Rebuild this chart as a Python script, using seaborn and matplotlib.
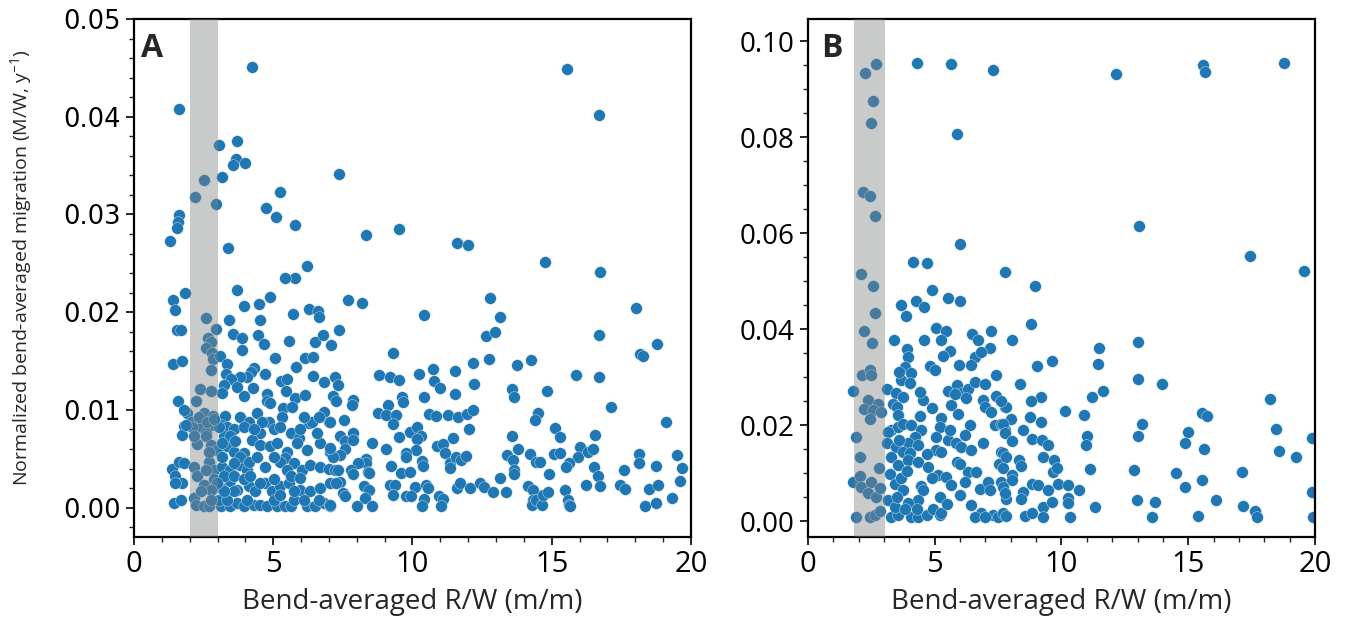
import numpy as np
import pandas as pd
import matplotlib
matplotlib.use("Agg")
import matplotlib.pyplot as plt
import seaborn as sns
from matplotlib.ticker import MultipleLocator, FormatStrFormatter

# ---------------- Panel A data (R/W, migration in 1e-3 M/W per yr) ----------------
a_rw = [
    4.24, 1.62, 3.07, 3.70, 3.67, 3.55, 3.97, 2.53, 3.15, 2.19, 2.93, 7.35, 5.26, 4.73, 5.10, 5.79,
    1.62, 1.58, 1.53, 1.31, 3.38, 8.32, 9.53, 6.20, 5.77, 5.44, 15.54, 16.71, 11.60, 12.01, 14.75, 16.75,
    1.82, 1.41, 1.48, 3.70, 4.87, 3.95, 4.48, 2.59, 3.41, 4.52, 5.71, 6.30, 6.61, 6.63, 1.55, 1.67, 2.93, 2.64, 2.78, 2.60,
    2.81, 2.84, 3.55, 3.88, 4.44, 4.68, 5.57, 6.51, 6.79, 3.89, 3.08, 5.08, 6.15, 6.43, 1.39, 1.71, 2.75, 3.35, 5.82, 4.30,
    4.19, 4.04, 3.80, 4.72, 6.42, 6.81, 3.29, 3.48, 3.23, 3.17, 5.27, 5.50, 4.28, 3.69, 3.95, 2.38, 2.75, 5.45, 4.78, 4.76,
    5.79, 6.15, 1.58, 2.21,
    1.91, 2.51, 2.83, 3.26, 3.82, 4.12, 4.42, 4.90, 5.35, 5.67, 6.81, 6.27,
    1.79, 2.03, 2.39, 2.75, 2.57, 3.11, 3.35, 3.58, 3.94, 4.54, 4.84, 5.32, 5.62, 5.91, 6.39, 6.99,
    1.73, 2.27, 2.57, 2.75, 2.99, 3.23, 3.35, 3.58, 3.94, 4.24, 4.54, 4.90, 5.14, 5.50, 5.85, 6.21, 6.69, 7.05,
    1.37, 1.61, 1.79, 2.15, 2.69, 2.87, 3.17, 3.46, 3.82, 4.06, 4.72, 5.44, 5.73, 6.03, 6.33, 6.69, 6.99,
    1.49, 1.73, 2.27, 2.51, 2.87, 3.11, 3.46, 3.70, 4.12, 4.36, 4.72, 4.96, 5.26, 5.56, 5.97, 6.33, 6.69, 7.05,
    1.43, 1.67, 2.15, 2.21, 2.51, 2.69, 3.11, 3.46, 3.70, 3.94, 4.30, 4.54, 4.78, 5.14, 5.44, 5.62, 6.21, 6.51, 6.81, 7.05,
    3.05, 3.46, 3.17, 3.64, 3.82, 4.12, 4.42, 5.26, 5.50, 5.62, 5.97, 3.23, 3.58, 3.94, 4.18, 4.54, 5.02, 3.05, 3.35, 4.06,
    5.02, 5.73, 6.09, 6.63, 3.58, 5.26, 5.73, 3.23, 2.99, 3.17, 3.58, 5.02, 4.60, 4.30, 5.02, 5.97, 6.57, 6.63, 6.09, 5.26,
    2.09, 2.33, 2.63, 2.87, 2.15, 2.69, 2.57, 2.75, 2.39, 2.75, 1.79, 1.85, 1.49,
    7.70, 8.18, 12.79, 10.41, 13.15, 7.35, 12.65, 12.96, 7.07, 9.30, 12.74, 13.76, 8.80, 9.18, 9.53, 10.23, 10.72, 11.52, 12.16, 7.20,
    7.33, 10.78, 10.97, 12.22, 13.58, 13.66, 11.51, 7.15, 7.27, 7.87, 7.82, 9.63, 9.66, 10.43, 9.13, 8.76, 9.06, 9.42, 9.30, 10.58,
    10.85, 11.26, 11.62, 11.95, 12.17, 7.53, 7.03, 12.02, 7.88, 7.39, 7.59, 7.87, 7.57, 7.39, 7.15, 7.03, 8.55, 9.06, 9.52, 9.90,
    10.16, 10.32, 10.16, 10.12, 9.75, 9.78, 10.88, 11.09, 11.15, 11.45, 11.33, 11.35, 11.57, 11.73, 11.93, 10.35, 10.38, 8.32, 8.34, 8.40,
    8.44, 8.05, 7.81, 7.87, 7.21, 7.33, 7.39, 7.27, 9.24, 9.58, 9.90, 9.18, 9.36, 9.30, 8.25, 8.44, 8.28, 7.51, 7.57, 7.03,
    7.99, 8.55, 10.08, 9.78, 9.96, 10.49, 10.55, 10.43, 10.35, 10.95, 11.09, 11.01, 11.61, 11.69, 12.07, 12.43, 12.56, 12.88, 13.34, 13.16,
    13.40, 13.60, 13.66, 13.66, 13.58, 13.79,
    18.01, 16.69, 18.79, 18.18, 18.26, 14.27, 15.88, 16.68, 14.83, 17.14, 19.10, 14.52, 14.40, 15.11, 15.31, 16.56, 14.21, 14.44, 14.59,
    15.07, 15.30, 16.00, 15.93, 15.63, 15.51, 16.31, 16.49, 16.53, 16.67, 16.75, 16.22, 14.89, 14.16, 14.32, 14.32, 14.28, 14.45, 14.64, 14.68,
    14.88, 15.48, 15.57, 15.61, 15.67, 17.60, 17.44, 17.64, 18.14, 18.12, 18.75, 18.50, 18.80, 18.34, 18.74, 19.33, 19.51, 19.68, 19.60,
]
a_mig_permil = [
    45.1, 40.8, 37.1, 37.5, 35.7, 35.1, 35.3, 33.5, 33.8, 31.8, 31.1, 34.1, 32.3, 30.7, 29.7, 28.9,
    29.9, 29.2, 28.6, 27.3, 26.6, 27.9, 28.5, 24.7, 23.5, 23.5, 44.9, 40.2, 27.1, 26.9, 25.1, 24.1,
    22.0, 21.2, 20.2, 22.3, 21.6, 20.6, 20.8, 19.4, 19.2, 19.2, 19.8, 20.3, 20.1, 19.5, 18.2, 18.2, 18.3, 17.4, 17.0, 16.3,
    15.8, 15.2, 17.8, 17.4, 17.7, 16.7, 17.1, 17.0, 17.7, 16.1, 15.5, 15.3, 15.3, 15.4, 14.7, 15.0, 14.1, 14.7, 14.4, 14.3,
    13.9, 13.4, 13.4, 13.7, 13.5, 12.9, 13.7, 13.2, 12.6, 11.7, 13.0, 13.2, 12.2, 12.3, 11.4, 12.1, 11.9, 11.9, 11.6, 10.9,
    11.2, 11.5, 10.9, 10.9,
    9.7, 9.7, 9.4, 9.4, 9.3, 8.8, 9.7, 10.7, 10.2, 10.3, 9.8, 8.7,
    8.4, 8.8, 8.3, 8.5, 7.6, 8.5, 8.3, 8.0, 8.3, 7.6, 8.8, 9.3, 7.6, 7.1, 8.8, 8.8,
    7.4, 6.5, 7.3, 6.4, 5.9, 7.3, 6.3, 5.7, 5.6, 6.9, 6.4, 6.3, 6.6, 5.7, 6.6, 5.9, 6.6, 5.7,
    4.0, 4.7, 4.6, 4.2, 4.7, 3.9, 4.2, 3.9, 4.4, 3.9, 4.2, 5.1, 4.6, 3.9, 4.4, 4.2, 4.0,
    3.2, 2.5, 3.2, 2.3, 2.9, 2.0, 2.7, 1.8, 2.2, 1.7, 2.5, 1.7, 2.2, 2.5, 1.8, 1.7, 2.0, 2.5,
    0.5, 0.8, 1.0, 0.3, 0.2, 0.2, 0.2, 0.2, 0.5, 0.2, 0.3, 0.3, 0.2, 0.2, 0.2, 0.2, 0.2, 0.2, 0.5, 0.2,
    8.3, 7.3, 6.6, 6.8, 5.2, 4.7, 5.2, 4.7, 3.9, 3.2, 3.0, 3.2, 3.2, 2.9, 3.2, 2.5, 2.9, 0.8, 0.8, 0.8,
    0.8, 0.8, 0.8, 0.8, 1.7, 1.3, 1.7, 1.7, 2.5, 5.2, 4.6, 5.2, 8.8, 8.1, 8.0, 8.0, 7.6, 9.3, 9.3, 8.3,
    8.3, 9.3, 8.8, 9.1, 7.3, 5.7, 3.9, 1.8, 1.7, 0.8, 10.0, 8.5, 2.5,
    21.3, 20.9, 21.5, 19.7, 19.5, 18.2, 17.6, 18.0, 16.6, 15.8, 15.2, 14.6, 13.6, 13.4, 13.1, 13.7, 14.2, 14.0, 14.8, 13.4,
    12.6, 13.0, 12.2, 12.7, 12.1, 11.3, 11.6, 11.4, 10.9, 11.0, 10.5, 11.3, 10.8, 11.3, 10.5, 9.7, 9.5, 9.5, 8.6, 9.6,
    9.4, 9.5, 9.3, 9.6, 10.0, 9.0, 8.8, 8.0, 7.6, 7.3, 6.8, 6.9, 6.0, 5.4, 5.2, 6.1, 6.6, 6.0, 7.2, 7.7,
    8.3, 7.3, 7.0, 5.9, 5.6, 5.2, 6.3, 6.5, 5.6, 7.1, 4.6, 4.1, 5.2, 4.9, 5.3, 4.8, 4.3, 5.0, 4.6, 3.7,
    3.5, 4.6, 3.9, 3.4, 3.9, 3.9, 2.6, 2.5, 4.3, 3.5, 3.7, 2.3, 2.3, 1.3, 2.2, 1.8, 1.0, 1.5, 1.2, 0.3,
    0.2, 0.2, 2.1, 1.2, 1.2, 2.3, 2.0, 0.9, 0.2, 1.2, 0.9, 0.2, 2.0, 2.5, 2.0, 2.5, 2.1, 1.6, 1.6, 3.0,
    5.4, 4.9, 3.9, 3.4, 7.3, 6.0,
    20.4, 17.7, 16.7, 15.7, 15.5, 15.1, 13.6, 13.4, 11.9, 10.3, 8.8, 9.7, 9.0, 8.2, 7.2, 7.4, 5.5, 4.7, 4.7,
    5.5, 5.6, 6.2, 5.2, 4.6, 4.2, 5.7, 6.0, 4.2, 3.2, 2.2, 2.3, 3.4, 2.2, 1.8, 0.8, 0.3, 0.8, 0.3, 1.3,
    1.6, 1.8, 0.8, 0.3, 0.2, 3.9, 2.3, 1.9, 5.5, 4.6, 4.3, 1.9, 2.3, 0.2, 0.5, 1.0, 5.4, 4.1, 2.7,
]

# ---------------- Panel B data ----------------
b_rw = [
    2.68, 2.24, 2.55, 2.50, 4.30, 5.63, 7.30, 5.86, 2.17, 2.43, 2.66, 5.98, 4.16, 4.69, 2.08, 7.76,
    12.14, 15.59, 15.66, 18.79, 13.06, 17.42, 19.58,
    2.55, 4.89, 5.52, 5.98, 3.68, 3.88, 4.27, 4.58, 2.63, 2.21, 2.54, 5.06, 5.46, 5.26, 3.38, 4.59, 6.48, 6.71, 7.21, 7.17,
    3.89, 3.94, 5.59, 5.33, 6.57, 6.44, 6.84, 4.83, 5.94, 3.81, 4.08, 2.14, 2.43, 2.50, 3.68, 4.01, 1.78, 3.12, 5.52, 5.89,
    6.05, 6.31, 6.25, 3.48, 3.75, 3.35, 4.54, 5.65, 5.92, 6.90, 6.97, 7.23, 7.40, 7.76, 2.37, 2.76, 2.21, 2.56, 2.46, 2.87,
    3.52, 3.55, 3.29, 3.55, 3.75, 4.08, 4.47, 4.21, 3.94, 5.26, 5.19, 6.38, 6.18, 7.36, 7.63, 7.76, 1.91, 3.16, 3.13, 5.06,
    5.52, 5.85, 6.90, 3.48, 3.75, 4.01, 4.34, 5.06, 5.26, 6.05, 6.44, 7.63, 2.04, 3.29, 3.55, 3.94, 4.34, 4.73, 5.89, 6.31,
    6.64, 6.18, 7.53, 2.79, 1.78, 2.04, 2.10, 2.50, 2.37, 2.70, 2.83, 3.22, 3.42, 3.68, 3.75, 5.13, 5.46, 5.65, 4.47, 4.54,
    4.34, 3.94, 5.19, 6.77, 7.10, 7.17, 7.63, 6.44, 6.84, 7.30, 3.16, 1.91, 2.43, 2.63, 2.83, 3.29, 3.55, 4.08, 4.34, 4.68,
    5.19, 3.42, 3.81, 4.93, 5.26, 6.57, 6.97, 7.50, 7.82,
    8.96, 8.78, 8.06, 11.48, 11.46, 13.01, 9.02, 9.62, 13.01, 13.95, 8.37, 9.20, 8.78, 11.62, 11.19, 7.81, 10.12, 8.77, 7.99, 9.20,
    10.90, 18.22, 15.53, 15.75, 13.18, 13.00, 15.01, 14.89, 18.48, 15.64, 19.89, 18.60, 19.26, 11.02, 10.95, 7.70, 7.77, 8.06, 8.49, 8.82,
    9.25, 9.48, 9.28, 9.71, 8.33, 8.40, 7.68, 7.83, 7.70, 8.03, 8.06, 9.67, 9.83, 11.13, 12.88, 14.53, 17.13, 7.70, 7.77, 8.49,
    8.82, 9.08, 9.48, 9.87, 10.27, 10.70, 14.87, 15.53, 19.89, 8.42, 9.28, 9.61, 10.24, 10.27, 11.34, 12.97, 13.68, 16.08, 17.18, 17.63,
    17.72, 7.70, 7.83, 8.56, 8.82, 9.28, 10.34, 13.59, 15.38, 19.93,
    3.6, 4.4, 4.9, 5.6, 6.0, 4.9, 3.9, 4.3, 5.5, 6.0, 3.5, 4.7, 5.8, 6.6, 3.6, 5.0, 4.4, 7.0, 7.4, 7.6,
]
b_mig_permil = [
    95.3, 93.3, 87.6, 82.9, 95.4, 95.3, 94.0, 80.7, 68.5, 67.7, 63.6, 57.8, 54.0, 53.8, 51.5, 52.0,
    93.2, 95.1, 93.5, 95.4, 61.4, 55.3, 52.2,
    49.0, 48.1, 46.4, 45.9, 45.0, 42.7, 45.8, 44.7, 43.3, 39.7, 37.2, 40.3, 39.6, 37.7, 37.7, 37.8, 39.0, 37.7, 39.6, 36.0,
    35.8, 34.2, 35.5, 34.4, 34.2, 32.5, 35.3, 32.3, 32.6, 32.2, 30.8, 30.4, 31.5, 30.4, 29.4, 28.7, 27.2, 27.6, 27.2, 28.3,
    26.6, 27.6, 25.6, 26.6, 25.9, 24.5, 25.2, 24.2, 22.4, 25.2, 23.8, 22.8, 26.0, 23.8, 25.2, 24.5, 23.3, 23.1, 21.2, 22.8,
    23.8, 22.1, 19.0, 19.7, 20.3, 20.0, 19.0, 17.6, 16.2, 21.4, 19.7, 20.0, 17.9, 20.0, 20.3, 19.0, 17.6, 18.6, 16.2, 17.6,
    16.9, 16.2, 16.2, 15.5, 14.4, 14.1, 15.8, 14.8, 14.4, 15.5, 14.8, 14.4, 13.3, 13.4, 11.7, 12.7, 12.4, 11.3, 12.4, 10.3,
    10.3, 8.2, 12.0, 11.0, 8.2, 9.4, 7.2, 8.2, 5.8, 5.1, 6.9, 9.9, 7.8, 8.9, 6.5, 9.6, 9.2, 7.5, 7.3, 6.5,
    4.4, 3.7, 5.1, 6.8, 8.2, 6.5, 8.2, 3.3, 1.6, 1.3, 4.4, 0.9, 0.9, 1.3, 2.2, 0.9, 1.3, 0.9, 0.9, 1.3,
    1.3, 3.0, 2.6, 2.6, 1.6, 0.9, 0.9, 0.9, 4.7,
    48.9, 41.0, 37.8, 36.0, 32.8, 37.4, 32.4, 33.3, 29.6, 28.5, 28.5, 25.9, 25.0, 27.1, 25.9, 23.8, 23.0, 21.7, 21.3, 20.6,
    22.1, 25.5, 22.6, 22.0, 20.3, 17.7, 18.5, 16.2, 19.2, 15.0, 17.4, 14.6, 13.3, 17.8, 15.8, 20.3, 18.3, 16.7, 19.0, 17.2,
    16.9, 15.8, 13.4, 12.7, 12.7, 11.5, 14.1, 13.4, 11.0, 9.6, 8.5, 10.3, 11.0, 10.9, 10.6, 10.1, 10.3, 7.2, 5.8, 6.1,
    7.8, 7.5, 6.5, 7.8, 7.5, 6.5, 7.2, 8.5, 6.0, 4.7, 3.0, 4.0, 4.9, 3.7, 2.9, 4.5, 4.0, 4.4, 3.1, 2.2,
    0.9, 1.6, 1.0, 1.0, 1.6, 0.9, 0.8, 0.9, 1.0, 0.8,
    17.0, 22.0, 23.5, 19.0, 12.0, 9.0, 10.5, 2.5, 3.5, 5.5, 5.0, 14.0, 26.5, 29.0, 31.0, 31.5, 27.0, 28.5, 30.5, 25.0,
]
assert len(a_rw) == len(a_mig_permil), (len(a_rw), len(a_mig_permil))
assert len(b_rw) == len(b_mig_permil), (len(b_rw), len(b_mig_permil))

band_a = (2.0, 3.0)
band_b = (1.8, 3.05)
x_label = "Bend-averaged R/W (m/m)"
y_label = "Normalized bend-averaged migration (M/W, y$^{\\mathregular{-1}}$)"

sns.set_style("ticks")
plt.rcParams["font.family"] = ["Open Sans", "DejaVu Sans"]

dfA = pd.DataFrame({"rw": a_rw, "mig": np.array(a_mig_permil) / 1000.0})
dfB = pd.DataFrame({"rw": b_rw, "mig": np.array(b_mig_permil) / 1000.0})

fig = plt.figure(figsize=(13.48, 6.25), dpi=100)
axA = fig.add_axes([0.0994, 0.1408, 0.4132, 0.8288])
axB = fig.add_axes([0.5994, 0.1408, 0.3761, 0.8288])

pt_color = "#1f77b4"
for ax, df, band in ((axA, dfA, band_a), (axB, dfB, band_b)):
    sns.scatterplot(data=df, x="rw", y="mig", ax=ax, color=pt_color, s=72,
                    edgecolor="white", linewidth=0.25, zorder=2, legend=False)
    ax.axvspan(band[0], band[1], color="#7f8585", alpha=0.42, lw=0, zorder=3)
    ax.set_xlim(0, 20)
    ax.xaxis.set_major_locator(MultipleLocator(5))
    ax.xaxis.set_minor_locator(MultipleLocator(1))
    ax.set_xlabel(x_label, fontsize=20, family="Open Sans", labelpad=6)
    ax.set_ylabel("")
    for sp in ax.spines.values():
        sp.set_visible(True)
        sp.set_color("black")
        sp.set_linewidth(1.6)
    ax.tick_params(axis="both", which="major", direction="out", length=6, width=1.2,
                   colors="black", top=False, right=False)
    ax.tick_params(axis="both", which="minor", direction="out", length=3.5, width=1.0,
                   top=False, right=False)
    for lab in ax.get_xticklabels():
        lab.set_fontfamily("Open Sans")
        lab.set_fontsize(21)

axA.set_ylim(-0.003, 0.05)
axA.yaxis.set_major_locator(MultipleLocator(0.01))
axA.yaxis.set_minor_locator(MultipleLocator(0.002))
axA.yaxis.set_major_formatter(FormatStrFormatter("%.2f"))
for lab in axA.get_yticklabels():
    lab.set_fontfamily("DejaVu Sans")
    lab.set_fontsize(18.5)

axB.set_ylim(-0.0033, 0.1046)
axB.yaxis.set_major_locator(MultipleLocator(0.02))
axB.yaxis.set_minor_locator(MultipleLocator(0.005))
axB.yaxis.set_major_formatter(FormatStrFormatter("%.2f"))
for lab in axB.get_yticklabels():
    lab.set_fontfamily("Open Sans")
    lab.set_fontsize(20)

axA.set_ylabel(y_label, fontsize=14, family="Open Sans")
axA.yaxis.set_label_coords(-0.178, 0.52)

axA.text(0.012, 0.975, "A", transform=axA.transAxes, ha="left", va="top",
         fontsize=23, fontweight="bold", family="Open Sans", zorder=5)
axB.text(0.026, 0.975, "B", transform=axB.transAxes, ha="left", va="top",
         fontsize=23, fontweight="bold", family="Open Sans", zorder=5)

fig.savefig("out.png", dpi=100)
